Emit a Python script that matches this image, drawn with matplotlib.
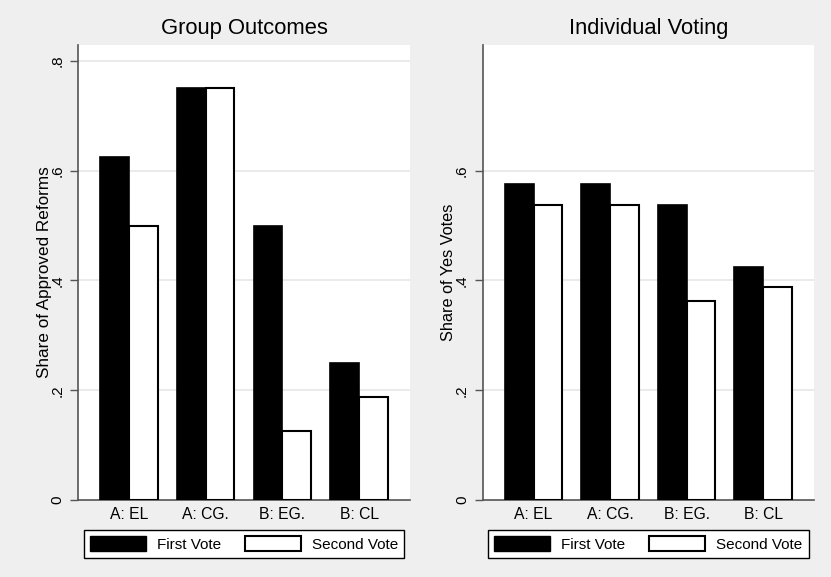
import numpy as np
import matplotlib.pyplot as plt
from matplotlib.patches import Patch

# categories and values
groups = ["A: EL", "A: CG.", "B: EG.", "B: CL"]
group_first = [0.625, 0.75, 0.5, 0.25]
group_second = [0.5, 0.75, 0.125, 0.1875]
indiv_first = [0.575, 0.575, 0.5375, 0.425]
indiv_second = [0.5375, 0.5375, 0.3625, 0.3875]
series = ["First Vote", "Second Vote"]

bg = "#efefef"
fig = plt.figure(figsize=(8.31, 5.77), dpi=100, facecolor=bg)
plt.rcParams["font.family"] = "Liberation Sans"

def panel(rect, first, second, title, ylabel, ylab_size, ylab_x, yticks, yticklabels):
    ax = fig.add_axes(rect)
    ax.set_facecolor("white")
    x = np.arange(len(groups))
    w = 0.375
    ax.bar(x - w / 2, first, w, color="black", edgecolor="black", linewidth=1.2, zorder=3)
    ax.bar(x + w / 2, second, w, color="white", edgecolor="black", linewidth=1.5, zorder=3)
    ax.set_xlim(-0.66, 3.66)
    ax.set_ylim(0, 0.829)
    ax.set_yticks(yticks)
    ax.set_yticklabels(yticklabels, rotation=90, va="center", fontsize=11)
    for t in yticks[1:]:
        ax.axhline(t, color="#e6e6e6", linewidth=1.2, zorder=1)
    ax.set_xticks(x)
    ax.set_xticklabels(groups, fontsize=11.3)
    ax.tick_params(axis="x", length=0, pad=5)
    ax.tick_params(axis="y", length=6, width=1, color="#555555", pad=4)
    for s in ["top", "right"]:
        ax.spines[s].set_visible(False)
    for s in ["left", "bottom"]:
        ax.spines[s].set_color("#555555")
        ax.spines[s].set_linewidth(1.2)
    ax.set_title(title, fontsize=15.8, pad=8)
    ax.set_ylabel(ylabel, fontsize=ylab_size)
    ax.yaxis.set_label_coords(ylab_x, 0.5)
    handles = [Patch(facecolor="black", edgecolor="black"),
               Patch(facecolor="white", edgecolor="black", linewidth=1.5)]
    ax.legend(handles, series, loc="upper center", bbox_to_anchor=(0.5, -0.066),
              ncol=2, fancybox=False, edgecolor="black", framealpha=1,
              fontsize=11, handlelength=3.66, handleheight=1.15,
              columnspacing=1.57, borderpad=0.4, handletextpad=0.72,
              borderaxespad=0)
    return ax

panel([0.0939, 0.1334, 0.3995, 0.7886], group_first, group_second,
      "Group Outcomes", "Share of Approved Reforms", 12.3, -0.078,
      [0, 0.2, 0.4, 0.6, 0.8], ["0", ".2", ".4", ".6", ".8"])
panel([0.5812, 0.1334, 0.398, 0.7886], indiv_first, indiv_second,
      "Individual Voting", "Share of Yes Votes", 11.7, -0.082,
      [0, 0.2, 0.4, 0.6], ["0", ".2", ".4", ".6"])

plt.savefig("out.png", dpi=100, facecolor=bg)
